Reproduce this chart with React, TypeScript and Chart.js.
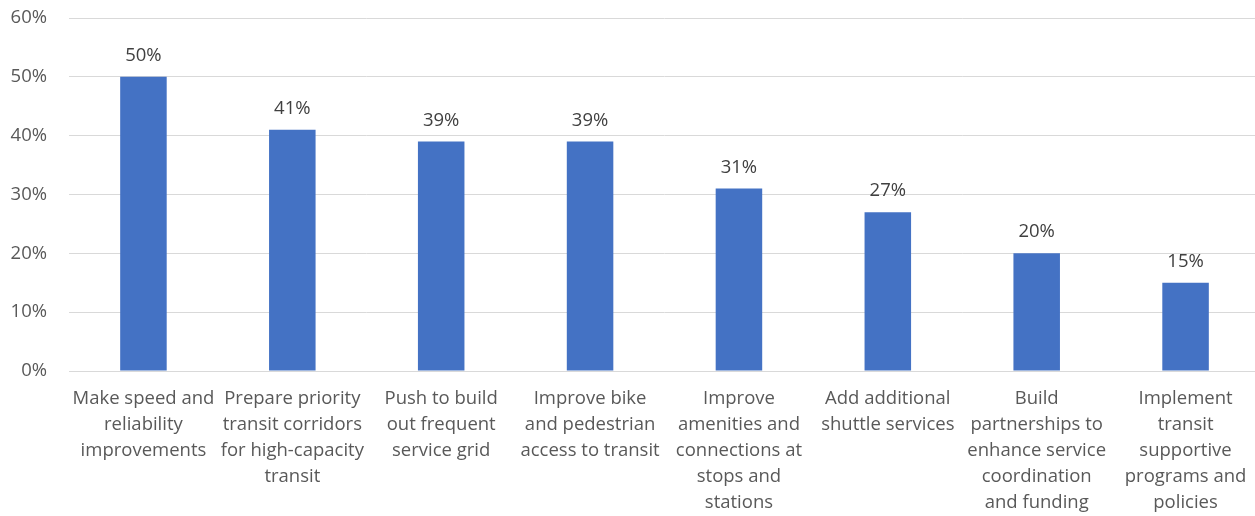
import React, { useEffect, useRef } from "react";
import { Chart, registerables } from "chart.js";

Chart.register(...registerables);

const categories: string[][] = [
  ["Make speed and", "reliability", "improvements"],
  ["Prepare priority", "transit corridors", "for high-capacity", "transit"],
  ["Push to build", "out frequent", "service grid"],
  ["Improve bike", "and pedestrian", "access to transit"],
  ["Improve", "amenities and", "connections at", "stops and", "stations"],
  ["Add additional", "shuttle services"],
  ["Build", "partnerships to", "enhance service", "coordination", "and funding"],
  ["Implement", "transit", "supportive", "programs and", "policies"],
];
const values: number[] = [50, 41, 39, 39, 31, 27, 20, 15];
const yTicks: number[] = [0, 10, 20, 30, 40, 50, 60];

const FONT = "'Open Sans', 'Noto Sans', sans-serif";
const SIZE = 18.5;

const labelPlugin = {
  id: "barLabels",
  afterDatasetsDraw(chart: any) {
    const ctx = chart.ctx;
    const meta = chart.getDatasetMeta(0);
    ctx.save();
    ctx.font = `${SIZE}px ${FONT}`;
    ctx.fillStyle = "#404040";
    ctx.textAlign = "center";
    ctx.textBaseline = "alphabetic";
    meta.data.forEach((bar: any, i: number) => {
      ctx.fillText(values[i] + "%", bar.x, bar.y - 16);
    });
    ctx.restore();
  },
};

export default function App() {
  const ref = useRef<HTMLCanvasElement>(null);
  useEffect(() => {
    if (!ref.current) return;
    const chart = new Chart(ref.current, {
      type: "bar",
      data: {
        labels: categories,
        datasets: [
          {
            data: values,
            backgroundColor: "#4472C4",
            barPercentage: 0.3125,
            categoryPercentage: 1,
          },
        ],
      },
      plugins: [labelPlugin],
      options: {
        animation: false,
        responsive: false,
        maintainAspectRatio: false,
        layout: { padding: { top: 18, right: 2, left: 0, bottom: 0 } },
        plugins: { legend: { display: false }, tooltip: { enabled: false } },
        scales: {
          x: {
            grid: { display: false },
            border: { color: "#d9d9d9" },
            ticks: {
              color: "#595959",
              font: { family: FONT, size: SIZE, lineHeight: 26 / SIZE },
              maxRotation: 0,
              autoSkip: false,
              padding: 7,
            },
            afterFit(scale: any) {
              scale.height = 145;
            },
          },
          y: {
            min: 0,
            max: 60,
            afterBuildTicks(scale: any) {
              scale.ticks = yTicks.map((v) => ({ value: v }));
            },
            grid: { color: "#d9d9d9", drawTicks: true, tickLength: 22, tickColor: "rgba(0,0,0,0)" },
            border: { display: false },
            ticks: {
              color: "#595959",
              font: { family: FONT, size: SIZE },
              padding: 0,
              callback: (v: any) => v + "%",
            },
            afterFit(scale: any) {
              scale.width = 69;
            },
          },
        },
      },
    });
    return () => chart.destroy();
  }, []);
  return (
    <div style={{ position: "absolute", left: 0, top: 0, width: 1255, height: 516, overflow: "hidden", background: "#fff" }}>
      <canvas ref={ref} width={1262} height={516} />
    </div>
  );
}
